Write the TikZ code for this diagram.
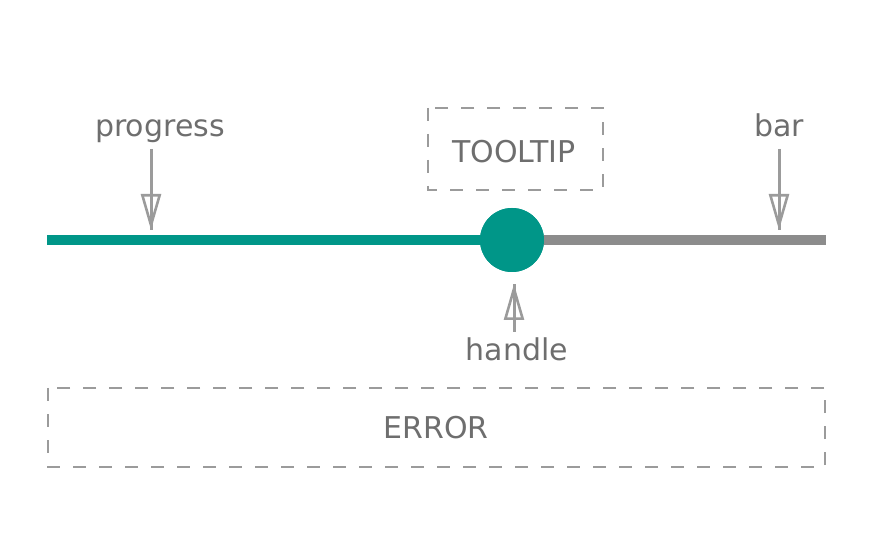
\documentclass[tikz,border=0pt]{standalone}
\usepackage{fontspec}
\setmainfont{DejaVu Sans}
\usetikzlibrary{arrows.meta}
\definecolor{teal1}{HTML}{009688}
\definecolor{bargray}{HTML}{8C8C8C}
\definecolor{linegray}{HTML}{9B9B9B}
\definecolor{txtgray}{HTML}{6E6E6E}
\begin{document}
\begin{tikzpicture}[x=1pt,y=-1pt,
  lbl/.style={text=txtgray,font=\fontsize{30}{34}\selectfont,inner sep=0pt,anchor=base},
  dashbox/.style={draw=linegray,line width=2.8pt,dash pattern=on 13pt off 13pt},
  ptr/.style={draw=linegray,line width=3pt},
  ptrhead/.style={draw=linegray,line width=2.6pt,-{Triangle[open,length=36pt,width=20pt,line width=2.6pt]}},
  barline/.style={line width=10pt}]
\useasboundingbox (0,0) rectangle (894,534);
% bars
\coordinate (pstart) at (47,240);
\coordinate (bend) at (826,240);
\node[circle,fill=teal1,minimum size=64pt,inner sep=0pt] (handle) at (512,240) {};
\draw[barline,draw=bargray] (handle.center) -- (bend);
\draw[barline,draw=teal1] (pstart) -- (handle.center);
\node[circle,fill=teal1,minimum size=64pt,inner sep=0pt] at (512,240) {};
% labels
\node[lbl] (progress) at (160,137) {progress};
\node[lbl] (bar) at (779,137) {bar};
\node[lbl] (handletxt) at (517,361) {handle};
% targets
\coordinate (ptip) at (151,230);
\coordinate (ptail) at (151,149);
\coordinate (btip) at (779,230);
\coordinate (btail) at (779,149);
\coordinate (htip) at (514,284);
\coordinate (htail) at (514,332);
\draw[ptr] (ptail) -- (ptip);
\draw[ptrhead] (ptail) -- (ptip);
\draw[ptr] (btail) -- (btip);
\draw[ptrhead] (btail) -- (btip);
\draw[ptr] (htail) -- (htip);
\draw[ptrhead] (htail) -- (htip);
% dashed boxes
\draw[dashbox] (428,108) rectangle (603,190);
\node[lbl] (tooltip) at (514,163) {TOOLTIP};
\draw[dashbox] (48,388) rectangle (825,467);
\node[lbl] (error) at (436,438) {ERROR};
\end{tikzpicture}
\end{document}
